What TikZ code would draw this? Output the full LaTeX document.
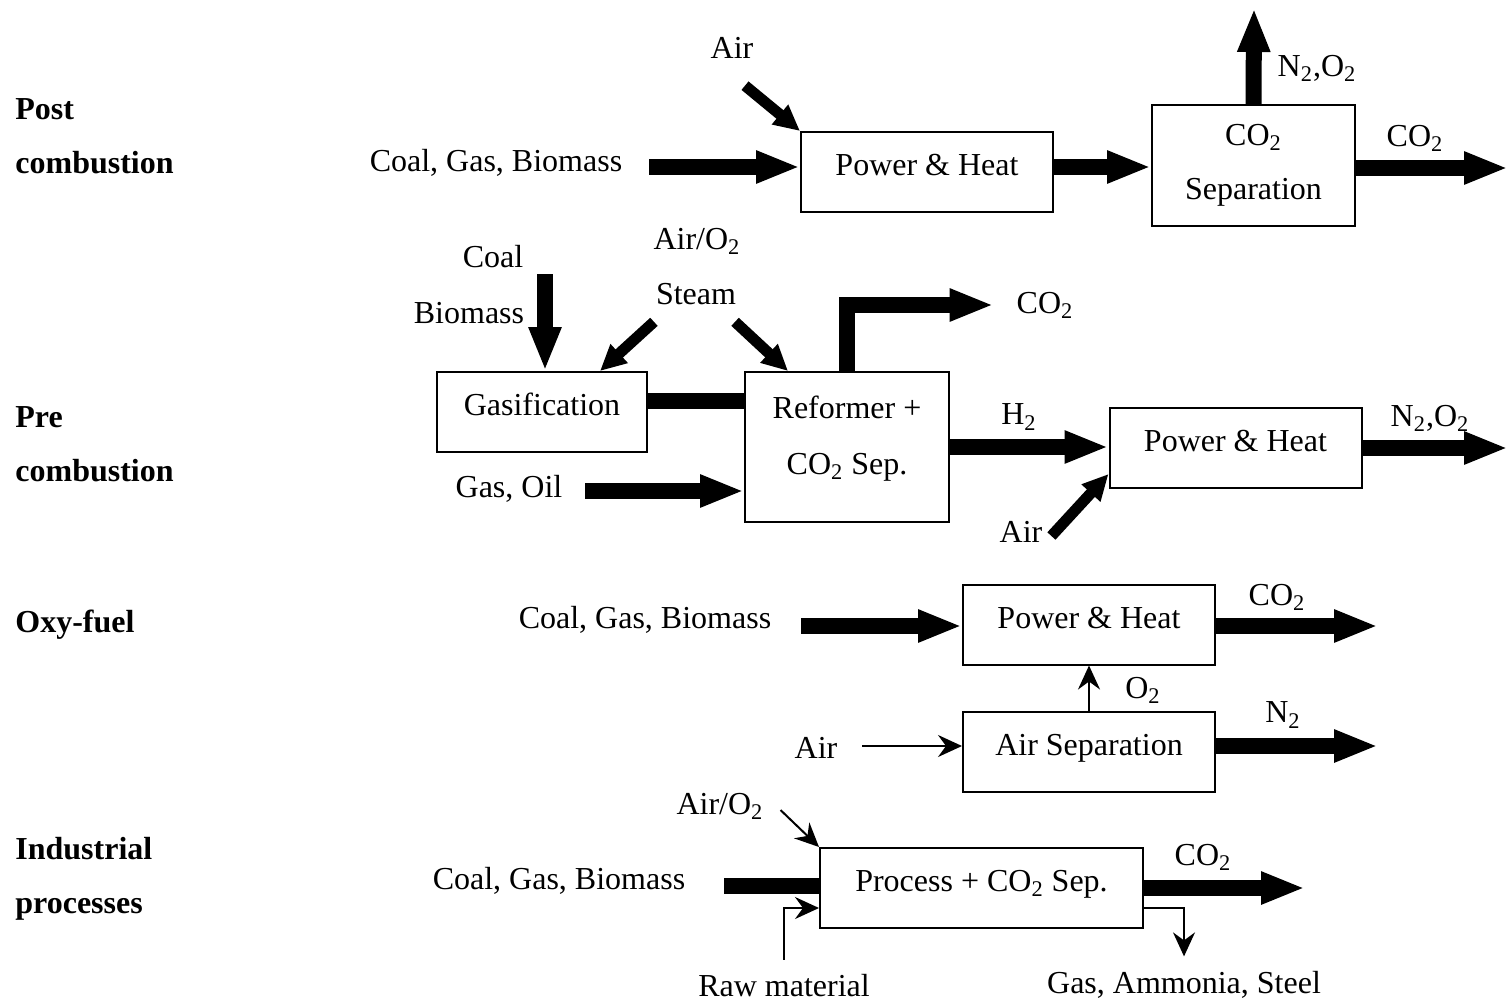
\documentclass[tikz,border=0pt]{standalone}
\usepackage{fontspec}
\setmainfont{Liberation Serif}
\usetikzlibrary{arrows.meta, positioning, calc}
\newcommand{\figfont}{\fontsize{16pt}{19pt}\selectfont}
\tikzstyle{block} = [draw, line width=1pt, minimum width=126pt, minimum height=40pt, align=center, inner sep=2pt]
\tikzstyle{lifted} = [text height=11pt, text depth=7.5pt]
\tikzstyle{flow} = [line width=8pt, -{Triangle[length=22pt,width=15pt]}]
\tikzstyle{flowbar} = [line width=8pt]
\tikzstyle{side} = [line width=5.5pt, -{Triangle[length=13pt,width=12pt]}]
\tikzstyle{feed} = [line width=1pt, -{Stealth[length=12pt,width=11pt,inset=4pt]}]
\tikzstyle{rowlabel} = [anchor=west, align=left, font=\figfont\bfseries, inner sep=0pt]

\begin{document}
\begin{tikzpicture}[x=0.5pt, y=-0.5pt, font=\figfont]
            \useasboundingbox (0,0) rectangle (1508,1001);

            % Route names
            \node[rowlabel] (post) at (15,136) {Post\\[8pt]combustion};
            \node[rowlabel] (pre) at (15,444) {Pre\\[8pt]combustion};
            \node[rowlabel] (oxy) at (15,625) {Oxy-fuel};
            \node[rowlabel] (ind) at (15,879) {Industrial\\[8pt]processes};

            % Post combustion
            \node (src1) at (496,163) {Coal, Gas, Biomass};
            \node (air1) at (732,48) {Air};
            \node[block, lifted] (ph1) at (927,172) {Power \& Heat};
            \node[block, minimum width=101.5pt, minimum height=60.5pt] (sep1) at (1253.5,165.5) {CO\textsubscript{2}\\[8pt]Separation};
            \node (n2o2a) at (1317,68) {N\textsubscript{2},O\textsubscript{2}};
            \node (co2a) at (1415,138) {CO\textsubscript{2}};
            \coordinate (top1) at (1254,8);
            \coordinate (out1) at (1508,168);

            \draw[flow] ($(src1.east)+(20,4)$) -- ([yshift=2.5pt]ph1.west);
            \draw[side] ($(air1.south)+(13,20)$) -- (ph1.north west);
            \draw[flow] ([yshift=2.5pt]ph1.east) -- ([yshift=2.5pt]ph1.east -| sep1.west);
            \draw[flow] (sep1.north) -- (top1);
            \draw[flow] (sep1.east |- out1) -- (out1);

            % Pre combustion
            \node (coal2) at (493,257) {Coal};
            \node (bio2) at (469,313) {Biomass};
            \node (airo2) at (697,241) {Air/O\textsubscript{2}};
            \node (steam2) at (696,294) {Steam};
            \node[block, lifted, minimum width=105pt] (gas2) at (542,412) {Gasification};
            \node[block, minimum width=102pt, minimum height=75pt, text depth=12pt] (ref2) at (847,447) {Reformer +\\[9pt]CO\textsubscript{2} Sep.};
            \node (oil2) at (509,489) {Gas, Oil};
            \node (co2b) at (1045,305) {CO\textsubscript{2}};
            \node (h2b) at (1019,417) {H\textsubscript{2}};
            \node[block, lifted] (ph2) at (1235.5,448) {Power \& Heat};
            \node (n2o2b) at (1430,418) {N\textsubscript{2},O\textsubscript{2}};
            \node (air2) at (1021,532) {Air};
            \coordinate (oilend) at ($(oil2.east)+(16,2)$);
            \coordinate (out2) at (1508,448);

            \draw[flow] ([xshift=1.5pt,yshift=0.5pt]gas2.north |- coal2.south) -- ([xshift=1.5pt]gas2.north);
            \draw[side] ($(steam2.south west)+(5,10)$) -- ([xshift=29pt]gas2.north);
            \draw[side] ($(steam2.south east)+(-8,10)$) -- ([xshift=22pt]ref2.north west);
            \draw[flowbar] ([yshift=5.5pt]gas2.east) -- ([yshift=5.5pt]gas2.east -| ref2.west);
            \draw[flow] (oilend) -- (oilend -| ref2.west);
            \draw[flow] (ref2.north) |- ([xshift=-8pt]co2b.west);
            \draw[flow] (ref2.east) -- (ref2.east -| ph2.west);
            \draw[flow] (ph2.east) -- (out2);
            \draw[side] ($(air2.east)+(2,4)$) -- ([yshift=-13pt]ph2.west);

            % Oxy-fuel
            \node (src3) at (645,620) {Coal, Gas, Biomass};
            \node[block, lifted] (ph3) at (1089,624.5) {Power \& Heat};
            \node (co2c) at (1277,597) {CO\textsubscript{2}};
            \node[block, lifted] (asu3) at (1089,752) {Air Separation};
            \node (o2c) at (1143,690) {O\textsubscript{2}};
            \node (n2c) at (1283,715) {N\textsubscript{2}};
            \node (air3) at (816,748) {Air};
            \coordinate (src3end) at ($(src3.east)+(23,6)$);
            \coordinate (air3end) at ($(air3.east)+(18,-2)$);
            \coordinate (out3) at (1378,626);
            \coordinate (out3b) at (1378,746);

            \draw[flow] (src3end) -- (src3end -| ph3.west);
            \draw[flow] (ph3.east |- out3) -- (out3);
            \draw[feed] (asu3.north) -- (ph3.south);
            \draw[flow] (asu3.east |- out3b) -- (out3b);
            \draw[feed] (air3end) -- (air3end -| asu3.west);

            % Industrial processes
            \node (airo4) at (720,806) {Air/O\textsubscript{2}};
            \node (src4) at (559,881) {Coal, Gas, Biomass};
            \node[block, lifted, minimum width=161.5pt] (proc4) at (981.5,888) {Process + CO\textsubscript{2} Sep.};
            \node (co2d) at (1203,857) {CO\textsubscript{2}};
            \node (raw4) at (784,986) {Raw material};
            \node (prod4) at (1184,985) {Gas, Ammonia, Steel};
            \coordinate (src4end) at ($(src4.east)+(32,5)$);
            \coordinate (out4) at (1305,888);

            \draw[feed] ($(airo4.east)+(10,4)$) -- (proc4.north west);
            \draw[flowbar] (src4end) -- (src4end -| proc4.west);
            \draw[flow] (proc4.east) -- (out4);
            \draw[feed] ([yshift=4pt]raw4.north) |- ([yshift=-10pt]proc4.west);
            \draw[feed] ([yshift=-10pt]proc4.east) -| ([yshift=4pt]prod4.north);

        \end{tikzpicture}
\end{document}
